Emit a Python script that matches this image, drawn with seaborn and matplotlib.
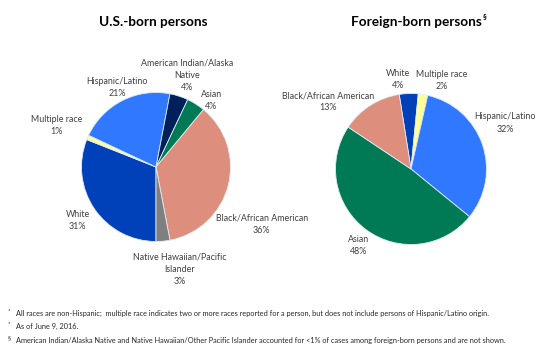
import matplotlib
matplotlib.use("Agg")
import matplotlib.pyplot as plt
import seaborn as sns

sns.set_theme(style="white")
plt.rcParams["font.family"] = ["Lato", "DejaVu Sans"]

# Race/ethnicity shares, U.S.-born persons (clockwise from the bottom)
us_groups = ["White", "Multiple race", "Hispanic/Latino",
             "American Indian/Alaska\nNative", "Asian",
             "Black/African American", "Native Hawaiian/Pacific\nIslander"]
us_pct = [31, 1, 21, 4, 4, 36, 3]
us_colors = ["#0040B8", "#FFFF99", "#2F78FF", "#00205C", "#007A55",
             "#DE8E7C", "#7F7F7F"]

# Race/ethnicity shares, foreign-born persons
fb_groups = ["White", "Multiple race", "Hispanic/Latino", "Asian",
             "Black/African American"]
fb_pct = [4, 2, 32, 48, 13]
fb_colors = ["#0040B8", "#FFFF99", "#2F78FF", "#007A55", "#DE8E7C"]

W, H = 550, 347
fig = plt.figure(figsize=(W / 100, H / 100), dpi=100)


def pie_axes(cx, cy, r):
    return fig.add_axes([(cx - r) / W, (H - cy - r) / H, 2 * r / W, 2 * r / H])


def draw_pie(ax, values, colors, start, groups, label_pos):
    ax.pie(values, colors=colors, startangle=start, counterclock=False,
           wedgeprops=dict(edgecolor="#DDEBF7", linewidth=0.6))
    ax.set_xlim(-1, 1)
    ax.set_ylim(-1, 1)
    ax.set_aspect("equal")
    ax.axis("off")
    for g, v in zip(groups, values):
        x, y = label_pos[g]
        ax.text(x, y, f"{g}\n{v}%", ha="center", va="center", fontsize=6.4,
                color="#404040", linespacing=1.45, clip_on=False)


ax1 = pie_axes(156, 167, 74.5)
us_label_pos = {
    "White": (-1.05, -0.72),
    "Multiple race": (-1.33, 0.56),
    "Hispanic/Latino": (-0.52, 1.07),
    "American Indian/Alaska\nNative": (0.42, 1.23),
    "Asian": (0.74, 0.89),
    "Black/African American": (1.42, -0.77),
    "Native Hawaiian/Pacific\nIslander": (0.32, -1.37),
}
draw_pie(ax1, us_pct, us_colors, -90, us_groups, us_label_pos)

ax2 = pie_axes(411, 169, 75.5)
fb_label_pos = {
    "White": (-0.17, 1.18),
    "Multiple race": (0.41, 1.17),
    "Hispanic/Latino": (1.25, 0.61),
    "Asian": (-0.70, -1.01),
    "Black/African American": (-1.10, 0.89),
}
draw_pie(ax2, fb_pct, fb_colors, 99, fb_groups, fb_label_pos)

# Panel titles
fig.text(153 / W, 1 - 22 / H, "U.S.-born persons", ha="center", va="center",
         fontsize=9.8, fontweight="bold", color="black")
fb_title = fig.text(416 / W, 1 - 22 / H, "Foreign-born persons", ha="center",
                    va="center", fontsize=9.8, fontweight="bold", color="black")
renderer = fig.canvas.get_renderer()
bb = fb_title.get_window_extent(renderer)
fig.text((bb.x1 + 1) / W, 1 - 17 / H, "§", ha="left", va="center",
         fontsize=5.5, fontweight="bold", color="black")

# Footnotes
notes = [
    ("*", "All races are non-Hispanic;  multiple race indicates two or more races "
          "reported for a person, but does not include persons of Hispanic/Latino origin.", 313),
    ("*", "As of June 9, 2016.", 326),
    ("§", "American Indian/Alaska Native and Native Hawaiian/Other Pacific Islander "
          "accounted for <1% of cases among foreign-born persons and are not shown.", 340),
]
for mark, txt, py in notes:
    fig.text(8 / W, 1 - (py - 2) / H, mark, ha="left", va="center",
             fontsize=4.5, color="#262626")
    fig.text(16 / W, 1 - py / H, txt, ha="left", va="center",
             fontsize=5.35, color="#262626")

fig.savefig("out.png", dpi=100)
